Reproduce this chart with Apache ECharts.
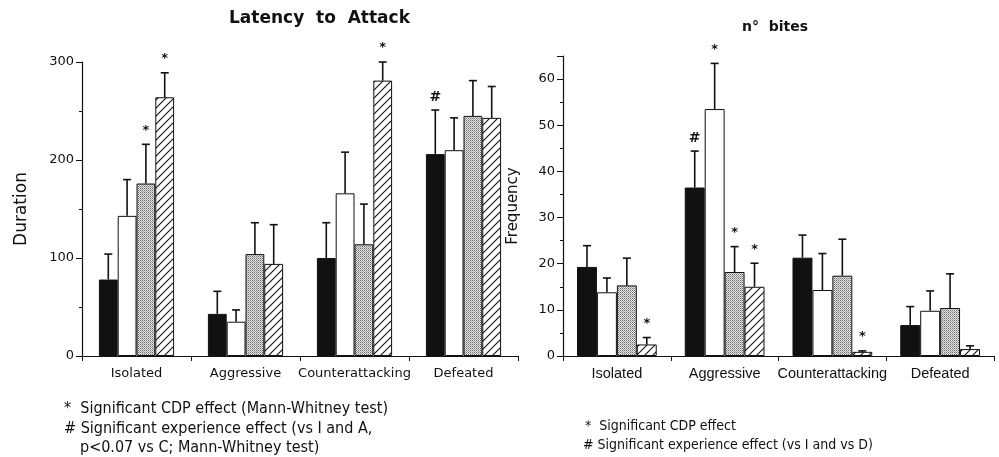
<!DOCTYPE html>
<html>
<head>
<meta charset="utf-8">
<script src="https://cdn.jsdelivr.net/npm/echarts@6/dist/echarts.min.js"></script>
<style>
  html, body { margin: 0; padding: 0; background: #fff; }
  #chart { width: 999px; height: 457px; }
</style>
</head>
<body>
<div id="chart"></div>
<script>
const categories = ['Isolated', 'Aggressive', 'Counterattacking', 'Defeated'];

// Latency to Attack (Duration)
const latencyBlack = [78, 43, 100, 206];
const latencyWhite = [143, 35, 166, 210];
const latencyDotted = [176, 104, 114, 245];
const latencyHatched = [264, 94, 281, 243];
const latencyErrBlack = [104, 66, 136, 251];
const latencyErrWhite = [180, 47, 208, 243];
const latencyErrDotted = [216, 136, 155, 281];
const latencyErrHatched = [289, 134, 300, 275];
const latencyMarkBlack = ['', '', '', '#'];
const latencyMarkWhite = ['', '', '', ''];
const latencyMarkDotted = ['*', '', '', ''];
const latencyMarkHatched = ['*', '', '*', ''];

// n° bites (Frequency)
const bitesBlack = [19.3, 36.5, 21.3, 6.7];
const bitesWhite = [13.8, 53.5, 14.3, 9.8];
const bitesDotted = [15.3, 18.2, 17.4, 10.4];
const bitesHatched = [2.5, 15.0, 0.9, 1.5];
const bitesErrBlack = [23.9, 44.4, 26.2, 10.7];
const bitesErrWhite = [16.9, 63.4, 22.2, 14.1];
const bitesErrDotted = [21.2, 23.7, 25.3, 17.8];
const bitesErrHatched = [4.0, 20.1, 1.1, 2.2];
const bitesMarkBlack = ['', '#', '', ''];
const bitesMarkWhite = ['', '*', '', ''];
const bitesMarkDotted = ['', '*', '', ''];
const bitesMarkHatched = ['*', '*', '*', ''];

const latencyTicks = [0, 100, 200, 300];
const bitesTicks = [0, 10, 20, 30, 40, 50, 60];

const INK = '#111';

// fill patterns
function hatchPattern() {
  const c = document.createElement('canvas');
  c.width = 8; c.height = 8;
  const g = c.getContext('2d');
  g.fillStyle = '#fff';
  g.fillRect(0, 0, 8, 8);
  g.strokeStyle = INK;
  g.lineWidth = 1.1;
  g.beginPath(); g.moveTo(-1, 9); g.lineTo(9, -1); g.stroke();
  g.beginPath(); g.moveTo(-1, 1); g.lineTo(1, -1); g.stroke();
  g.beginPath(); g.moveTo(7, 9); g.lineTo(9, 7); g.stroke();
  return c;
}
function dotPattern() {
  const c = document.createElement('canvas');
  c.width = 2; c.height = 2;
  const g = c.getContext('2d');
  g.fillStyle = '#e6e6e6';
  g.fillRect(0, 0, 2, 2);
  g.fillStyle = '#6a6a6a';
  g.fillRect(0, 0, 1, 1);
  g.fillStyle = '#a0a0a0';
  g.fillRect(1, 1, 1, 1);
  return c;
}
const fills = [
  INK,
  '#fff',
  { image: dotPattern(), repeat: 'repeat' },
  { image: hatchPattern(), repeat: 'repeat' }
];

function barSeries(values, k, xi, gap) {
  return {
    type: 'bar',
    xAxisIndex: xi,
    yAxisIndex: xi,
    data: values,
    barGap: '0%',
    barCategoryGap: gap,
    itemStyle: { color: fills[k], borderColor: INK, borderWidth: 1 },
    emphasis: { disabled: true },
    z: 2
  };
}

function errorSeries(xi, vals, errs, marks, gap) {
  const data = [];
  for (let s = 0; s < vals.length; s++) {
    for (let c = 0; c < categories.length; c++) {
      data.push([c, vals[s][c], errs[s][c], s]);
    }
  }
  const gapFrac = parseFloat(gap) / 100;
  return {
    type: 'custom',
    xAxisIndex: xi,
    yAxisIndex: xi,
    data: data,
    encode: { x: 0, y: [1, 2] },
    z: 5,
    silent: true,
    renderItem: function (params, api) {
      const c = api.value(0);
      const s = api.value(3);
      const band = api.size([1, 0])[0];
      const group = band * (1 - gapFrac);
      const bw = group / 4;
      const base = api.coord([c, api.value(1)]);
      const top = api.coord([c, api.value(2)]);
      const x = base[0] - group / 2 + (s + 0.5) * bw;
      const lineStyle = { stroke: INK, lineWidth: 1.6 };
      const children = [
        { type: 'line', shape: { x1: x, y1: base[1], x2: x, y2: top[1] }, style: lineStyle },
        { type: 'line', shape: { x1: x - 4, y1: top[1], x2: x + 4, y2: top[1] }, style: lineStyle }
      ];
      const m = marks[s][c];
      if (m) {
        children.push({
          type: 'text',
          style: {
            text: m, x: x, y: top[1] - (m === '#' ? 13 : 14),
            align: 'center', verticalAlign: 'middle',
            fill: INK, fontSize: m === '#' ? 14 : 13, fontWeight: 'bold', fontFamily: 'DejaVu Sans'
          }
        });
      }
      return { type: 'group', children: children };
    }
  };
}

const chart = echarts.init(document.getElementById('chart'), null, { renderer: 'canvas' });

const xAxisBase = {
  type: 'category',
  data: categories,
  axisLine: { show: true, lineStyle: { color: INK, width: 1.2 } },
  axisTick: { show: true, length: 5, lineStyle: { color: INK, width: 1 } },
  splitLine: { show: false }
};

const noteFontL = '16px "Liberation Sans Narrow", "DejaVu Sans Condensed", sans-serif';
const noteFontR = '14px "Liberation Sans Narrow", "DejaVu Sans Condensed", sans-serif';

const option = {
  backgroundColor: '#fff',
  animation: false,
  grid: [
    { left: 82, top: 62, width: 436, height: 294, outerBoundsMode: 'none' },
    { left: 563, top: 56, width: 431, height: 300, outerBoundsMode: 'none' }
  ],
  xAxis: [
    Object.assign({}, xAxisBase, {
      gridIndex: 0,
      axisLabel: { color: INK, fontSize: 13, fontFamily: 'DejaVu Sans', margin: 11, interval: 0 }
    }),
    Object.assign({}, xAxisBase, {
      gridIndex: 1,
      axisLabel: { color: INK, fontSize: 14.5, fontFamily: 'Liberation Sans', margin: 10, interval: 0 }
    })
  ],
  yAxis: [
    {
      type: 'value', gridIndex: 0,
      min: latencyTicks[0], max: latencyTicks[latencyTicks.length - 1], interval: 100,
      axisLine: { show: true, lineStyle: { color: INK, width: 1.2 } },
      axisTick: { show: true, length: 6, lineStyle: { color: INK } },
      minorTick: { show: true, splitNumber: 2, length: 3, lineStyle: { color: INK } },
      splitLine: { show: false },
      axisLabel: { color: INK, fontSize: 13, fontFamily: 'DejaVu Sans', margin: 8 },
      name: 'Duration', nameLocation: 'middle', nameRotate: 90, nameGap: 52,
      nameTextStyle: { color: INK, fontSize: 17, fontFamily: 'DejaVu Sans' }
    },
    {
      type: 'value', gridIndex: 1,
      min: bitesTicks[0], max: 65, interval: 10,
      axisLine: { show: true, lineStyle: { color: INK, width: 1.2 } },
      axisTick: { show: true, length: 6, lineStyle: { color: INK } },
      minorTick: { show: true, splitNumber: 2, length: 3, lineStyle: { color: INK } },
      splitLine: { show: false },
      axisLabel: { color: INK, fontSize: 13, fontFamily: 'DejaVu Sans', margin: 8, showMaxLabel: false },
      name: 'Frequency', nameLocation: 'middle', nameRotate: 90, nameGap: 42,
      nameTextStyle: { color: INK, fontSize: 15, fontFamily: 'DejaVu Sans' }
    }
  ],
  series: [
    barSeries(latencyBlack, 0, 0, '31%'),
    barSeries(latencyWhite, 1, 0, '31%'),
    barSeries(latencyDotted, 2, 0, '31%'),
    barSeries(latencyHatched, 3, 0, '31%'),
    errorSeries(0,
      [latencyBlack, latencyWhite, latencyDotted, latencyHatched],
      [latencyErrBlack, latencyErrWhite, latencyErrDotted, latencyErrHatched],
      [latencyMarkBlack, latencyMarkWhite, latencyMarkDotted, latencyMarkHatched], '31%'),
    barSeries(bitesBlack, 0, 1, '26%'),
    barSeries(bitesWhite, 1, 1, '26%'),
    barSeries(bitesDotted, 2, 1, '26%'),
    barSeries(bitesHatched, 3, 1, '26%'),
    errorSeries(1,
      [bitesBlack, bitesWhite, bitesDotted, bitesHatched],
      [bitesErrBlack, bitesErrWhite, bitesErrDotted, bitesErrHatched],
      [bitesMarkBlack, bitesMarkWhite, bitesMarkDotted, bitesMarkHatched], '26%')
  ],
  graphic: [
    { type: 'text', left: 229, top: 10,
      style: { text: 'Latency  to  Attack', fill: INK, font: 'bold 17px "DejaVu Sans"' } },
    { type: 'text', left: 742, top: 20,
      style: { text: 'n°  bites', fill: INK, font: 'bold 14px "DejaVu Sans"' } },
    { type: 'text', left: 64, top: 401,
      style: { text: '*  Significant CDP effect (Mann-Whitney test)', fill: INK, font: noteFontL } },
    { type: 'text', left: 64, top: 421,
      style: { text: '# Significant experience effect (vs I and A,', fill: INK, font: noteFontL } },
    { type: 'text', left: 80, top: 440,
      style: { text: 'p<0.07 vs C; Mann-Whitney test)', fill: INK, font: noteFontL } },
    { type: 'text', left: 585, top: 419,
      style: { text: '*  Significant CDP effect', fill: INK, font: noteFontR } },
    { type: 'text', left: 583, top: 438,
      style: { text: '# Significant experience effect (vs I and vs D)', fill: INK, font: noteFontR } }
  ]
};

chart.setOption(option);
</script>
</body>
</html>
